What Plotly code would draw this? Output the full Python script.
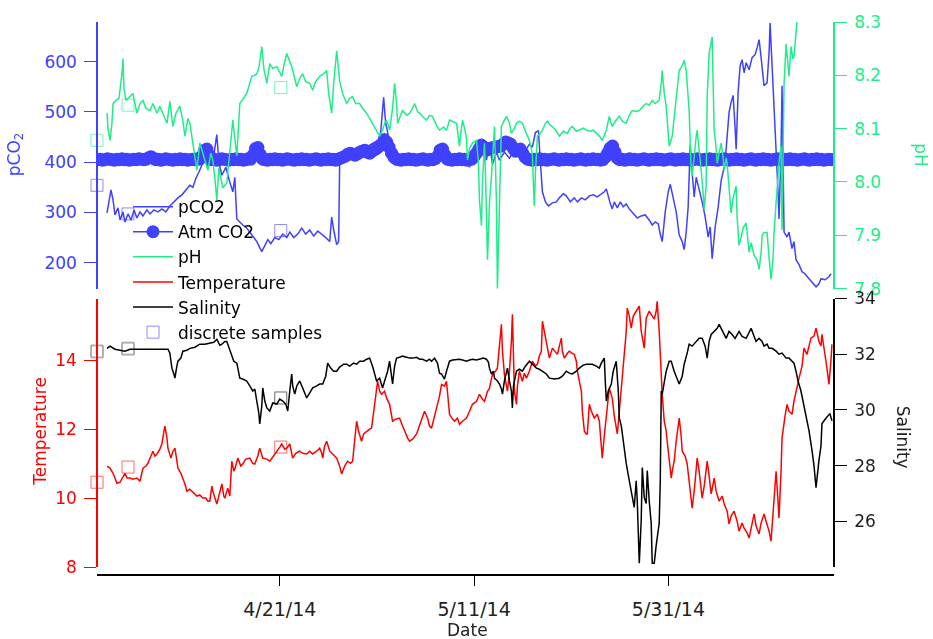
import pandas as pd
import plotly.graph_objects as go

# ---------------------------------------------------------------- data
# times are given as days after 2014-04-01 00:00
T0 = pd.Timestamp("2014-04-01")

pco2_day = [2.22, 2.43, 2.63, 2.84, 3.04, 3.35, 3.56, 3.86, 4.07, 4.38, 4.69, 5.00, 5.30, 5.61, 5.92, 6.33, 6.64, 7.05, 7.46, 7.87,
            8.28, 8.69, 9.10, 9.52, 9.93, 10.34, 10.75, 11.06, 11.37, 11.67, 11.98, 12.29, 12.50, 12.80, 13.11, 13.52, 13.73, 14.04, 14.45, 14.86,
            15.17, 15.37, 15.58, 15.89, 16.19, 16.60, 16.91, 17.33, 17.64, 17.94, 18.15, 18.46, 18.77, 19.08, 19.49, 19.90, 20.31, 20.72, 21.03, 21.44,
            21.85, 22.26, 22.67, 23.08, 23.50, 23.91, 24.32, 24.73, 25.14, 25.34, 25.55, 25.86, 26.06, 26.16, 26.47, 26.88, 27.29, 27.80, 28.22, 28.73,
            29.25, 29.76, 30.07, 30.38, 30.69, 30.89, 31.20, 31.61, 32.13, 32.85, 33.57, 34.39, 35.21, 36.03, 36.85, 37.67, 38.50, 39.12, 39.53, 39.94,
            40.35, 40.86, 41.27, 41.58, 41.89, 42.30, 42.61, 43.12, 43.64, 44.15, 44.66, 45.18, 45.69, 46.00, 46.31, 46.62, 46.82, 47.03, 47.34, 47.65,
            48.06, 48.47, 48.77, 49.19, 49.49, 49.90, 50.31, 50.63, 51.04, 51.45, 51.86, 52.27, 52.68, 53.09, 53.40, 53.61, 53.81, 54.02, 54.22, 54.43,
            54.74, 55.05, 55.35, 55.66, 55.97, 56.38, 56.79, 57.20, 57.61, 58.02, 58.33, 58.64, 58.95, 59.16, 59.36, 59.67, 59.98, 60.19, 60.49, 60.80,
            61.11, 61.42, 61.62, 61.83, 62.03, 62.24, 62.44, 62.65, 62.86, 63.16, 63.47, 63.78, 64.09, 64.30, 64.50, 64.81, 65.12, 65.43, 65.74, 65.94,
            66.24, 66.45, 66.66, 66.86, 66.97, 67.17, 67.38, 67.58, 67.79, 68.00, 68.30, 68.61, 68.92, 69.13, 69.33, 69.54, 69.84, 70.15, 70.36, 70.46,
            70.67, 70.87, 71.08, 71.28, 71.38, 71.59, 71.69, 71.80, 71.90, 72.21, 72.41, 72.72, 72.92, 73.13, 73.44, 73.75, 74.05, 74.47, 74.78, 75.19,
            75.49, 75.70, 76.11, 76.52, 76.72]
pco2_val = [299, 321, 345, 325, 295, 309, 285, 301, 281, 297, 285, 305, 289, 301, 293, 305, 297, 305, 301, 307,
            301, 313, 321, 329, 335, 345, 354, 350, 368, 380, 394, 426, 390, 420, 400, 455, 400, 374, 390, 360,
            341, 370, 287, 281, 275, 269, 261, 250, 242, 230, 222, 234, 246, 238, 250, 246, 257, 250, 261, 250,
            257, 269, 257, 265, 253, 263, 257, 250, 242, 291, 265, 236, 242, 394, 404, 420, 426, 420, 432, 428,
            434, 440, 434, 459, 529, 479, 450, 420, 410, 404, 408, 404, 410, 406, 410, 404, 400, 410, 390, 416,
            400, 420, 404, 440, 396, 420, 404, 420, 408, 424, 410, 420, 436, 430, 459, 463, 400, 341, 321, 313,
            319, 321, 329, 337, 333, 321, 329, 321, 329, 325, 333, 335, 331, 337, 341, 347, 329, 317, 307, 321,
            309, 321, 311, 317, 307, 297, 289, 293, 295, 285, 275, 281, 277, 257, 242, 301, 341, 356, 329, 301,
            255, 242, 226, 261, 311, 434, 380, 331, 370, 347, 321, 291, 251, 271, 208, 271, 311, 364, 390, 426,
            499, 519, 533, 469, 426, 539, 592, 604, 578, 598, 584, 608, 614, 628, 644, 608, 552, 558, 618, 677,
            598, 519, 440, 341, 287, 420, 552, 420, 261, 251, 261, 228, 242, 206, 196, 182, 178, 168, 162, 152,
            158, 168, 166, 172, 178]

# atmospheric CO2, one value every 6 h from 2014-04-02 06:00
atm_co2 = [405, 406, 404, 405, 407, 406, 405, 404, 406, 405, 407, 405, 406, 404, 405, 406, 405, 407, 406, 405,
           406, 409, 411, 408, 405, 406, 404, 405, 407, 406, 405, 404, 406, 405, 407, 405, 406, 404, 405, 406,
           405, 407, 406, 412, 424, 426, 414, 405, 406, 404, 405, 407, 406, 405, 404, 406, 405, 407, 405, 406,
           404, 405, 407, 406, 414, 427, 429, 415, 406, 405, 404, 406, 405, 407, 405, 406, 404, 405, 407, 406,
           405, 404, 406, 405, 407, 405, 406, 404, 405, 406, 407, 405, 404, 406, 405, 407, 405, 406, 404, 406,
           408, 410, 412, 416, 418, 416, 414, 417, 420, 422, 424, 420, 418, 422, 425, 428, 432, 436, 445, 440,
           430, 418, 410, 406, 405, 404, 406, 405, 407, 405, 406, 404, 405, 406, 407, 405, 404, 406, 405, 407,
           412, 424, 426, 414, 406, 405, 404, 406, 405, 407, 405, 406, 404, 405, 406, 412, 418, 426, 434, 430,
           424, 426, 428, 429, 430, 431, 432, 436, 440, 438, 436, 428, 422, 424, 426, 418, 410, 406, 405, 404,
           406, 405, 407, 405, 406, 404, 405, 406, 407, 405, 404, 406, 405, 407, 405, 406, 404, 405, 406, 407,
           405, 404, 406, 405, 407, 405, 406, 404, 405, 410, 418, 428, 432, 420, 408, 405, 406, 404, 405, 407,
           405, 406, 404, 405, 406, 407, 405, 404, 406, 405, 407, 405, 406, 404, 405, 406, 407, 405, 404, 406,
           405, 407, 405, 406, 404, 405, 406, 407, 405, 404, 406, 405, 407, 405, 406, 404, 405, 406, 407, 405,
           404, 406, 405, 407, 405, 406, 404, 405, 406, 407, 405, 404, 406, 405, 407, 405, 406, 404, 405, 406,
           407, 405, 404, 406, 405, 407, 405, 406, 404, 405, 406, 407, 405, 404, 406, 405, 407, 405, 406, 404,
           405, 406, 405, 406]

ph_day = [2.22, 2.32, 2.53, 2.73, 2.84, 3.14, 3.45, 3.76, 3.86, 3.97, 4.17, 4.48, 4.89, 5.10, 5.30, 5.61, 5.92, 6.23, 6.64, 6.95,
          7.36, 7.66, 7.87, 8.18, 8.39, 8.69, 9.00, 9.31, 9.72, 10.03, 10.24, 10.54, 10.75, 11.06, 11.27, 11.47, 11.77, 12.08, 12.29, 12.60,
          12.91, 13.11, 13.32, 13.52, 13.73, 13.83, 14.14, 14.55, 14.86, 15.17, 15.37, 15.58, 15.89, 16.30, 16.60, 16.91, 17.12, 17.43, 17.64, 17.84,
          18.15, 18.36, 18.67, 18.97, 19.28, 19.69, 20.00, 20.20, 20.51, 20.72, 21.03, 21.23, 21.54, 21.75, 22.05, 22.36, 22.67, 23.08, 23.39, 23.69,
          24.11, 24.52, 24.83, 25.03, 25.34, 25.55, 25.86, 26.06, 26.16, 26.47, 26.88, 27.19, 27.50, 27.80, 28.22, 28.52, 28.94, 29.25, 29.55, 29.96,
          30.28, 30.58, 30.79, 31.00, 31.30, 31.61, 31.82, 32.02, 32.13, 32.44, 32.64, 33.05, 33.36, 33.67, 33.87, 34.18, 34.39, 34.80, 35.10, 35.41,
          35.72, 36.13, 36.44, 36.85, 37.16, 37.47, 37.78, 38.19, 38.39, 38.50, 38.70, 38.81, 39.01, 39.22, 39.32, 39.53, 39.83, 40.25, 40.45, 40.55,
          40.76, 40.86, 41.07, 41.17, 41.38, 41.58, 41.79, 41.99, 42.10, 42.30, 42.40, 42.61, 42.81, 43.12, 43.33, 43.64, 43.84, 44.15, 44.36, 44.66,
          44.97, 45.28, 45.69, 45.89, 46.00, 46.10, 46.20, 46.31, 46.51, 46.82, 47.03, 47.34, 47.54, 47.85, 48.06, 48.47, 48.77, 49.19, 49.60, 49.90,
          50.11, 50.52, 50.83, 51.24, 51.55, 51.96, 52.27, 52.58, 52.89, 53.19, 53.40, 53.61, 53.91, 54.22, 54.53, 54.94, 55.25, 55.66, 55.97, 56.27,
          56.68, 57.00, 57.41, 57.71, 58.02, 58.33, 58.64, 59.05, 59.26, 59.36, 59.57, 59.77, 59.98, 60.08, 60.39, 60.59, 60.80, 61.11, 61.42, 61.62,
          61.83, 62.03, 62.13, 62.24, 62.34, 62.44, 62.65, 62.86, 62.96, 63.16, 63.37, 63.57, 63.68, 63.88, 63.99, 64.19, 64.40, 64.50, 64.60, 64.71,
          64.91, 65.02, 65.22, 65.43, 65.63, 65.74, 65.94, 66.04, 66.24, 66.45, 66.66, 66.97, 67.07, 67.27, 67.48, 67.69, 68.00, 68.20, 68.30, 68.51,
          68.82, 69.13, 69.33, 69.54, 69.64, 69.84, 70.15, 70.36, 70.56, 70.77, 70.87, 71.08, 71.18, 71.38, 71.59, 71.69, 71.80, 71.90, 72.11, 72.31,
          72.41, 72.62, 72.82, 72.92, 73.13, 73.34, 73.60, 74.50, 75.50, 76.70]
ph_val = [8.129, 8.100, 8.078, 8.110, 8.147, 8.153, 8.157, 8.203, 8.231, 8.175, 8.153, 8.159, 8.166, 8.147, 8.129, 8.147, 8.153, 8.138, 8.134, 8.147,
          8.129, 8.142, 8.134, 8.119, 8.110, 8.151, 8.104, 8.129, 8.142, 8.114, 8.086, 8.119, 8.110, 8.073, 8.049, 8.022, 8.073, 8.054, 8.041, 8.022,
          8.054, 8.041, 8.007, 7.966, 8.026, 8.017, 7.989, 7.998, 8.054, 8.116, 8.082, 8.049, 8.147, 8.157, 8.166, 8.185, 8.198, 8.200, 8.203, 8.213,
          8.254, 8.213, 8.185, 8.222, 8.213, 8.216, 8.203, 8.198, 8.226, 8.241, 8.226, 8.216, 8.194, 8.179, 8.194, 8.203, 8.188, 8.185, 8.172, 8.188,
          8.198, 8.203, 8.209, 8.166, 8.129, 8.185, 8.246, 8.213, 8.190, 8.166, 8.147, 8.157, 8.160, 8.147, 8.147, 8.138, 8.129, 8.119, 8.110, 8.095,
          8.086, 8.097, 8.110, 8.116, 8.097, 8.138, 8.185, 8.147, 8.110, 8.125, 8.134, 8.125, 8.129, 8.138, 8.147, 8.132, 8.129, 8.121, 8.116, 8.125,
          8.123, 8.106, 8.097, 8.103, 8.097, 8.116, 8.114, 8.110, 8.082, 8.067, 8.101, 8.116, 8.101, 8.082, 8.041, 8.063, 8.073, 8.078, 8.035, 7.966,
          7.918, 7.998, 8.073, 8.017, 7.854, 7.961, 8.011, 8.073, 8.104, 7.961, 7.798, 7.961, 8.104, 8.116, 8.123, 8.110, 8.091, 8.101, 8.110, 8.114,
          8.110, 8.095, 8.078, 8.063, 8.049, 7.998, 7.955, 8.017, 8.086, 8.091, 8.097, 8.110, 8.114, 8.106, 8.104, 8.095, 8.086, 8.095, 8.091, 8.101,
          8.104, 8.095, 8.097, 8.101, 8.097, 8.095, 8.097, 8.091, 8.086, 8.078, 8.088, 8.097, 8.123, 8.104, 8.114, 8.123, 8.114, 8.110, 8.125, 8.134,
          8.132, 8.134, 8.142, 8.147, 8.144, 8.153, 8.147, 8.153, 8.185, 8.209, 8.166, 8.142, 8.091, 8.067, 8.086, 8.119, 8.147, 8.209, 8.218, 8.228,
          8.209, 8.166, 8.134, 8.073, 8.022, 8.011, 8.054, 8.086, 8.097, 8.063, 8.022, 7.979, 7.948, 7.992, 8.160, 8.241, 8.259, 8.272, 8.185, 8.097,
          8.063, 8.035, 8.054, 8.073, 8.045, 8.022, 8.045, 8.035, 7.989, 7.942, 7.970, 7.992, 7.933, 7.881, 7.896, 7.914, 7.923, 7.886, 7.868, 7.886,
          7.862, 7.853, 7.836, 7.868, 7.899, 7.905, 7.905, 7.858, 7.817, 7.858, 7.905, 7.961, 7.992, 8.035, 8.067, 7.910, 8.054, 8.185, 8.259, 8.222,
          8.198, 8.254, 8.231, 8.235, 8.297, 8.325, 8.340, 8.360, 8.350, 8.360]

temp_day = [2.22, 2.53, 2.84, 3.25, 3.56, 3.76, 4.07, 4.28, 4.58, 4.89, 5.30, 5.61, 5.92, 6.23, 6.43, 6.74, 6.95, 7.15, 7.36, 7.66,
            7.87, 8.08, 8.18, 8.39, 8.49, 8.80, 9.00, 9.21, 9.41, 9.52, 9.82, 10.03, 10.24, 10.44, 10.75, 10.96, 11.27, 11.47, 11.77, 12.08,
            12.39, 12.60, 12.80, 13.01, 13.11, 13.32, 13.52, 13.73, 14.04, 14.24, 14.35, 14.65, 14.86, 15.06, 15.27, 15.37, 15.68, 15.99, 16.19, 16.50,
            16.91, 17.22, 17.43, 17.74, 17.94, 18.25, 18.67, 18.97, 19.38, 19.69, 20.00, 20.20, 20.51, 20.72, 21.03, 21.33, 21.64, 22.05, 22.36, 22.77,
            23.08, 23.39, 23.80, 24.11, 24.32, 24.42, 24.62, 24.83, 25.14, 25.45, 25.86, 26.16, 26.37, 26.68, 26.98, 27.29, 27.50, 27.70, 27.91, 28.11,
            28.42, 28.63, 28.94, 29.25, 29.45, 29.66, 29.76, 29.96, 30.07, 30.28, 30.48, 30.79, 31.00, 31.30, 31.61, 31.92, 32.33, 32.64, 32.85, 33.16,
            33.36, 33.67, 34.08, 34.39, 34.70, 34.90, 35.21, 35.41, 35.62, 35.93, 36.13, 36.44, 36.65, 36.95, 37.16, 37.37, 37.47, 37.78, 37.99, 38.29,
            38.50, 38.81, 39.22, 39.53, 39.83, 40.25, 40.55, 40.86, 41.07, 41.38, 41.58, 41.89, 42.20, 42.40, 42.61, 42.81, 42.92, 43.12, 43.33, 43.43,
            43.64, 43.84, 43.94, 44.05, 44.15, 44.36, 44.46, 44.66, 44.97, 45.18, 45.38, 45.69, 46.00, 46.31, 46.51, 46.72, 46.92, 47.03, 47.23, 47.44,
            47.75, 48.06, 48.36, 48.57, 48.77, 48.98, 49.08, 49.29, 49.60, 49.80, 50.11, 50.31, 50.52, 50.63, 50.83, 51.04, 51.14, 51.35, 51.55, 51.65,
            51.86, 52.07, 52.37, 52.68, 52.89, 53.09, 53.19, 53.40, 53.61, 53.81, 53.91, 54.22, 54.43, 54.74, 54.94, 55.15, 55.35, 55.46, 55.66, 55.76,
            55.97, 56.17, 56.38, 56.68, 57.00, 57.20, 57.51, 57.71, 58.02, 58.23, 58.54, 58.74, 58.84, 59.05, 59.26, 59.36, 59.57, 59.77, 59.87, 60.08,
            60.29, 60.39, 60.59, 60.80, 61.11, 61.31, 61.42, 61.72, 61.93, 62.13, 62.44, 62.65, 62.96, 63.16, 63.47, 63.68, 63.99, 64.19, 64.40, 64.71,
            64.91, 65.22, 65.53, 65.74, 66.04, 66.24, 66.45, 66.76, 67.07, 67.27, 67.58, 67.79, 68.10, 68.30, 68.51, 68.82, 69.02, 69.33, 69.54, 69.84,
            70.05, 70.15, 70.36, 70.56, 70.77, 71.08, 71.28, 71.38, 71.59, 71.69, 72.00, 72.21, 72.41, 72.72, 72.92, 73.13, 73.44, 73.75, 73.95, 74.26,
            74.47, 74.67, 74.98, 75.19, 75.49, 75.70, 75.80, 76.01, 76.21, 76.42, 76.52, 76.72, 76.83]
temp_val = [10.93, 10.87, 10.72, 10.43, 10.46, 10.55, 10.72, 10.58, 10.58, 10.55, 10.58, 10.49, 10.87, 10.93, 11.01, 11.22, 11.36, 11.22, 11.28, 11.42,
            11.57, 11.94, 12.09, 11.74, 11.45, 11.16, 11.36, 11.45, 11.13, 10.87, 10.72, 10.58, 10.41, 10.20, 10.26, 10.20, 10.12, 10.06, 10.09, 10.00,
            10.00, 9.91, 9.91, 10.35, 10.20, 10.00, 9.83, 10.06, 10.41, 10.06, 10.00, 10.29, 10.06, 11.07, 10.78, 10.84, 11.16, 10.93, 10.99, 11.13,
            11.16, 11.01, 10.99, 11.22, 11.45, 11.16, 11.13, 11.07, 11.22, 11.36, 11.48, 11.57, 11.42, 11.45, 11.57, 11.16, 11.30, 11.36, 11.30, 11.28,
            11.36, 11.28, 11.36, 11.45, 11.30, 11.16, 11.51, 11.65, 11.36, 11.28, 11.16, 10.93, 10.70, 10.93, 11.07, 11.01, 11.07, 11.65, 12.23, 11.94,
            11.65, 11.86, 11.94, 12.00, 12.03, 12.52, 12.81, 13.25, 13.39, 13.10, 13.01, 13.10, 12.90, 12.72, 12.23, 12.29, 12.32, 12.09, 11.94, 11.74,
            11.65, 11.71, 11.86, 12.09, 12.38, 12.52, 12.32, 12.09, 12.03, 12.38, 12.61, 12.96, 13.30, 13.25, 13.39, 12.81, 12.43, 12.29, 12.23, 12.32,
            12.14, 12.23, 12.32, 12.52, 12.72, 12.81, 13.01, 12.87, 12.81, 13.10, 13.19, 13.59, 13.68, 13.77, 14.41, 15.04, 14.26, 13.59, 13.25, 13.10,
            13.68, 14.55, 15.33, 14.26, 13.10, 12.72, 13.25, 13.68, 13.39, 13.62, 13.48, 13.68, 13.97, 13.83, 13.88, 14.12, 14.26, 15.13, 14.84, 14.46,
            14.06, 14.35, 14.26, 14.17, 14.41, 14.64, 14.26, 14.06, 14.20, 14.26, 14.20, 14.17, 13.97, 13.68, 13.39, 13.10, 12.52, 11.94, 11.86, 11.86,
            12.72, 12.52, 12.32, 12.43, 12.23, 11.65, 11.16, 11.80, 12.32, 12.96, 13.19, 12.90, 12.38, 11.86, 12.52, 13.10, 13.68, 14.06, 14.84, 15.51,
            15.28, 14.93, 15.28, 15.42, 15.57, 14.84, 14.35, 15.22, 15.42, 15.33, 15.19, 15.42, 15.71, 14.84, 13.54, 13.01, 12.23, 11.94, 11.65, 11.01,
            10.58, 10.78, 11.07, 11.65, 12.32, 11.80, 11.36, 11.22, 10.99, 10.49, 9.71, 10.20, 11.16, 10.78, 10.00, 10.35, 11.07, 10.64, 10.12, 10.58,
            10.20, 9.91, 10.06, 9.83, 9.62, 9.25, 9.48, 9.62, 9.33, 9.04, 9.28, 9.13, 8.99, 8.84, 9.10, 9.54, 9.19, 8.96, 9.28, 9.54,
            9.33, 9.25, 9.04, 8.75, 9.62, 10.78, 9.91, 9.42, 10.78, 11.74, 12.38, 12.72, 12.52, 12.43, 12.81, 13.10, 13.48, 13.83, 14.35, 14.17,
            14.41, 14.64, 14.70, 14.93, 14.55, 14.41, 14.75, 14.41, 13.97, 13.54, 13.30, 13.97, 14.46]

sal_day = [2.22, 2.53, 3.04, 3.56, 4.07, 4.58, 5.61, 6.64, 7.66, 8.49, 8.69, 8.90, 9.10, 9.21, 9.41, 9.52, 9.82, 10.03, 10.44, 10.75,
           11.27, 11.77, 12.29, 12.80, 13.21, 13.52, 13.83, 14.04, 14.35, 14.55, 14.86, 15.06, 15.27, 15.58, 15.89, 16.19, 16.60, 16.91, 17.22, 17.43,
           17.64, 17.84, 17.94, 18.15, 18.25, 18.46, 18.67, 18.97, 19.28, 19.69, 20.00, 20.31, 20.62, 20.82, 21.03, 21.23, 21.33, 21.54, 21.75, 22.05,
           22.36, 22.77, 23.08, 23.39, 23.80, 24.11, 24.42, 24.73, 24.93, 25.24, 25.55, 25.86, 26.16, 26.57, 26.88, 27.19, 27.60, 27.91, 28.22, 28.63,
           28.94, 29.25, 29.55, 29.76, 29.96, 30.28, 30.48, 30.58, 30.79, 31.10, 31.30, 31.51, 31.61, 31.82, 32.02, 32.33, 32.64, 33.05, 33.36, 33.67,
           34.08, 34.39, 34.70, 35.10, 35.41, 35.62, 35.93, 36.23, 36.44, 36.65, 36.95, 37.16, 37.47, 37.78, 38.19, 38.50, 38.81, 39.22, 39.53, 39.83,
           40.25, 40.55, 40.96, 41.27, 41.48, 41.58, 41.79, 41.99, 42.10, 42.40, 42.61, 42.81, 42.92, 43.12, 43.43, 43.64, 43.84, 43.94, 44.05, 44.36,
           44.66, 44.97, 45.28, 45.69, 46.00, 46.41, 46.72, 47.03, 47.44, 47.75, 48.26, 48.77, 49.08, 49.49, 49.80, 50.11, 50.52, 50.83, 51.24, 51.55,
           51.86, 52.17, 52.58, 52.89, 53.09, 53.40, 53.50, 53.61, 53.81, 54.12, 54.32, 54.63, 54.84, 54.94, 55.15, 55.35, 55.46, 55.66, 55.97, 56.17,
           56.38, 56.48, 56.68, 56.79, 57.00, 57.20, 57.31, 57.51, 57.71, 57.82, 58.02, 58.23, 58.33, 58.54, 58.74, 58.84, 59.05, 59.16, 59.26, 59.36,
           59.57, 59.77, 60.08, 60.29, 60.59, 60.90, 61.11, 61.42, 61.62, 61.93, 62.13, 62.44, 62.86, 63.16, 63.47, 63.78, 63.99, 64.19, 64.40, 64.71,
           65.02, 65.22, 65.53, 65.74, 65.94, 66.24, 66.55, 66.86, 67.27, 67.58, 68.00, 68.30, 68.51, 68.82, 69.02, 69.33, 69.64, 69.84, 70.15, 70.36,
           70.67, 71.08, 71.38, 71.69, 72.11, 72.41, 72.72, 72.92, 73.13, 73.34, 73.64, 73.85, 74.16, 74.47, 74.78, 74.98, 75.19, 75.29, 75.49, 75.70,
           75.80, 76.01, 76.21, 76.42, 76.62, 76.83]
sal_val = [32.21, 32.29, 32.18, 32.14, 32.11, 32.18, 32.18, 32.18, 32.18, 32.18, 32.04, 31.50, 31.29, 31.14, 31.57, 31.75, 31.86, 32.11, 32.14, 32.21,
           32.25, 32.36, 32.36, 32.39, 32.43, 32.54, 32.32, 32.36, 32.46, 32.46, 32.18, 32.00, 31.75, 31.68, 31.14, 31.11, 31.04, 30.86, 30.68, 30.75,
           30.32, 29.89, 29.50, 30.14, 30.79, 30.32, 30.07, 29.96, 30.25, 30.21, 30.39, 30.32, 30.21, 29.96, 30.68, 31.29, 30.86, 30.57, 30.86, 31.04,
           30.79, 30.43, 30.61, 30.79, 30.86, 30.93, 30.93, 31.21, 31.68, 31.50, 31.39, 31.39, 31.54, 31.64, 31.64, 31.57, 31.68, 31.64, 31.75, 31.75,
           31.82, 31.86, 31.57, 31.32, 31.04, 31.14, 30.93, 30.79, 31.04, 31.39, 31.75, 31.21, 30.93, 31.57, 31.86, 31.89, 31.93, 31.89, 31.86, 31.86,
           31.89, 31.82, 31.82, 31.75, 31.82, 31.75, 31.86, 31.68, 31.32, 31.29, 31.11, 31.39, 31.75, 31.79, 31.82, 31.82, 31.79, 31.75, 31.79, 31.82,
           31.79, 31.82, 31.86, 31.82, 31.71, 31.50, 31.29, 31.39, 31.14, 31.04, 30.93, 30.75, 30.57, 31.04, 31.50, 31.04, 30.68, 30.07, 30.86, 31.39,
           31.46, 31.39, 31.57, 31.75, 31.64, 31.50, 31.46, 31.39, 31.29, 31.14, 31.11, 31.14, 31.21, 31.39, 31.32, 31.29, 31.39, 31.50, 31.61, 31.64,
           31.64, 31.64, 31.57, 31.50, 31.68, 31.86, 31.04, 30.32, 30.68, 30.93, 31.39, 31.75, 30.68, 29.71, 29.43, 28.89, 28.79, 28.07, 27.46, 27.11,
           26.75, 26.50, 27.46, 26.75, 24.50, 26.04, 27.93, 26.86, 26.64, 27.82, 26.75, 25.93, 24.50, 24.50, 25.14, 25.43, 25.93, 27.46, 30.68, 30.57,
           31.04, 31.39, 31.75, 31.75, 31.39, 31.14, 30.93, 31.21, 31.64, 32.04, 32.36, 32.29, 32.46, 32.57, 32.57, 32.29, 31.86, 32.46, 32.71, 32.82,
           32.93, 33.07, 32.82, 32.71, 32.57, 32.82, 32.71, 32.57, 32.82, 32.64, 32.57, 32.82, 32.93, 32.64, 32.46, 32.57, 32.46, 32.29, 32.36, 32.21,
           32.21, 32.11, 32.00, 32.04, 31.86, 31.86, 31.75, 31.68, 31.39, 31.04, 30.68, 30.32, 29.71, 29.25, 28.54, 28.00, 27.21, 27.64, 28.18, 28.71,
           29.50, 29.61, 29.71, 29.79, 29.86, 29.61]

# discrete bottle samples
sample_day = [1.19, 4.38, 20.10]
sample_pco2 = [354, 297, 264]
sample_ph = [8.078, 8.144, 8.177]
sample_temp = [10.46, 10.90, 11.48]
sample_sal = [32.10, 32.20, 30.43]

date_ticks = ["2014-04-21", "2014-05-11", "2014-05-31"]
date_labels = ["4/21/14", "5/11/14", "5/31/14"]
x_span_days = [1.19, 77.04]

# ---------------------------------------------------------------- styling
BLUE = "#4040FF"
GREEN = "#1EEE88"
RED = "#FF0000"
BLACK = "#000000"
FONT = "DejaVu Sans"


def to_time(days):
    return T0 + pd.to_timedelta(days, unit="D")


W, H = 933, 639
ML, MR, MT, MB = 97, 99, 19, 64
PW, PH = W - ML - MR, H - MT - MB


def px(x):
    return (x - ML) / PW


def py(y):
    return (H - MB - y) / PH


fig = go.Figure()

fig.add_trace(go.Scatter(x=to_time(pco2_day), y=pco2_val, name="pCO2", mode="lines",
                         line=dict(color=BLUE, width=1.5), yaxis="y", legendrank=1))
atm_time = pd.date_range("2014-04-02 06:00", periods=len(atm_co2), freq="6h")
fig.add_trace(go.Scatter(x=atm_time, y=atm_co2, name="Atm CO2", mode="lines+markers",
                         line=dict(color=BLUE, width=1.5),
                         marker=dict(color=BLUE, size=13, symbol="circle"),
                         yaxis="y", legendrank=2))
fig.add_trace(go.Scatter(x=to_time(ph_day), y=ph_val, name="pH", mode="lines",
                         line=dict(color=GREEN, width=1.5), yaxis="y2", legendrank=3))
fig.add_trace(go.Scatter(x=to_time(temp_day), y=temp_val, name="Temperature", mode="lines",
                         line=dict(color=RED, width=1.5), yaxis="y3", legendrank=4))
fig.add_trace(go.Scatter(x=to_time(sal_day), y=sal_val, name="Salinity", mode="lines",
                         line=dict(color=BLACK, width=1.5), yaxis="y4", legendrank=5))

sample_sets = [(sample_pco2, "y", BLUE, True), (sample_ph, "y2", GREEN, False),
               (sample_temp, "y3", RED, False), (sample_sal, "y4", BLACK, False)]
for vals, ax, col, show in sample_sets:
    fig.add_trace(go.Scatter(x=to_time(sample_day), y=vals, name="discrete samples",
                             mode="markers", yaxis=ax, showlegend=show, legendgroup="samples",
                             legendrank=6, cliponaxis=False, opacity=0.6,
                             marker=dict(symbol="square-open", size=12, color=col,
                                         line=dict(width=1, color=col))))

tick_font = dict(family=FONT, size=17)
common_y = dict(showgrid=False, zeroline=False, showline=True, linewidth=1.5,
                ticks="outside", ticklen=12, tickwidth=1, ticklabelstandoff=4)

fig.update_layout(
    width=W, height=H,
    margin=dict(l=ML, r=MR, t=MT, b=MB),
    paper_bgcolor="white", plot_bgcolor="white",
    font=dict(family=FONT, size=17, color=BLACK),
    showlegend=True,
    legend=dict(x=px(128), y=py(187), xanchor="left", yanchor="top",
                bgcolor="rgba(0,0,0,0)", borderwidth=0, tracegroupgap=0,
                itemwidth=40, font=dict(family=FONT, size=17, color=BLACK)),
    xaxis=dict(type="date", range=[to_time(x_span_days[0]), to_time(x_span_days[1])],
               domain=[0, 1], anchor="free", position=0,
               showgrid=False, zeroline=False, showline=True, linecolor=BLACK, linewidth=1.5,
               ticks="outside", ticklen=10, tickwidth=1, tickcolor=BLACK, ticklabelstandoff=7,
               tickvals=date_ticks, ticktext=date_labels,
               tickfont=dict(family=FONT, size=19, color="#222222")),
    yaxis=dict(domain=[py(287), 1], range=[148.5, 679], anchor="free", position=0, side="left",
               tickvals=[200, 300, 400, 500, 600], color=BLUE, linecolor=BLUE, tickcolor=BLUE,
               tickfont=dict(tick_font, color=BLUE), **common_y),
    yaxis2=dict(overlaying="y", range=[7.8, 8.3], anchor="free", position=1, side="right",
                tickvals=[7.8, 7.9, 8.0, 8.1, 8.2, 8.3], tickformat=".1f",
                color=GREEN, linecolor=GREEN, tickcolor=GREEN,
                tickfont=dict(tick_font, color=GREEN), **common_y),
    yaxis3=dict(domain=[py(567), py(297)], range=[8, 15.79], anchor="free", position=0, side="left",
                tickvals=[8, 10, 12, 14], color=RED, linecolor=RED, tickcolor=RED,
                tickfont=dict(tick_font, color=RED), **common_y),
    yaxis4=dict(overlaying="y3", range=[24.36, 34], anchor="free", position=1, side="right",
                tickvals=[26, 28, 30, 32, 34], color=BLACK, linecolor=BLACK, tickcolor=BLACK,
                tickfont=dict(tick_font, color="#222222"), **common_y),
)

titles = [
    ("pCO<sub>2</sub>", 15, 152, -90, BLUE),
    ("Temperature", 40, 431, -90, RED),
    ("pH", 921, 153, 90, GREEN),
    ("Salinity", 903, 437, 90, "#222222"),
    ("Date", 467, 630, 0, "#222222"),
]
for text, x, y, angle, col in titles:
    fig.add_annotation(text=text, x=px(x), y=py(y), xref="paper", yref="paper",
                       xanchor="center", yanchor="middle", showarrow=False, textangle=angle,
                       font=dict(family=FONT, size=17, color=col))

fig.write_html("out.html")
